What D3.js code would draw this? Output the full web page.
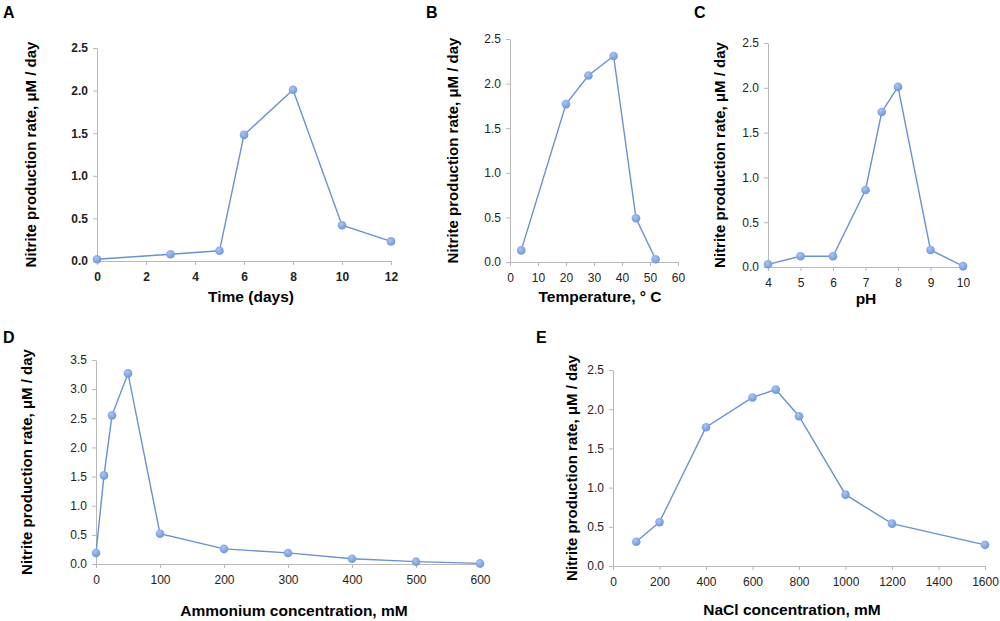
<!DOCTYPE html>
<html>
<head>
<meta charset="utf-8">
<script src="https://cdn.jsdelivr.net/npm/d3@7"></script>
<style>
  body { margin: 0; background: #fff; }
  svg { display: block; font-family: "Liberation Sans", Arial, sans-serif; }
  .axis path, .axis line { stroke: #b8b8b8; }
  .axis text { fill: #222; }
</style>
</head>
<body>
<svg id="chart" width="1000" height="621"></svg>
<script>
// panel A - time course
var timeDays = [0, 3, 5, 6, 8, 10, 12];
var rateTime = [0.02, 0.08, 0.12, 1.48, 2.01, 0.42, 0.23];
var timeTicks = [0, 2, 4, 6, 8, 10, 12];

// panel B - temperature
var tempC = [4, 20, 28, 37, 45, 52];
var rateTemp = [0.13, 1.77, 2.09, 2.31, 0.49, 0.03];
var tempTicks = [0, 10, 20, 30, 40, 50, 60];

// panel C - pH
var phVals = [4, 5, 6, 7, 7.5, 8, 9, 10];
var ratePh = [0.03, 0.12, 0.12, 0.86, 1.73, 2.01, 0.19, 0.01];
var phTicks = [4, 5, 6, 7, 8, 9, 10];

// panel D - ammonium
var ammonium = [0, 12.5, 25, 50, 100, 200, 300, 400, 500, 600];
var rateAmm = [0.19, 1.52, 2.55, 3.27, 0.52, 0.26, 0.19, 0.09, 0.04, 0.01];
var ammTicks = [0, 100, 200, 300, 400, 500, 600];

// panel E - NaCl
var nacl = [100, 200, 400, 600, 700, 800, 1000, 1200, 1600];
var rateNacl = [0.31, 0.56, 1.77, 2.15, 2.25, 1.91, 0.91, 0.54, 0.27];
var naclTicks = [0, 200, 400, 600, 800, 1000, 1200, 1400, 1600];

var yTicks25 = [0, 0.5, 1.0, 1.5, 2.0, 2.5];
var yTicks35 = [0, 0.5, 1.0, 1.5, 2.0, 2.5, 3.0, 3.5];

var yLabel = "Nitrite production rate, \u03bcM / day";

var svg = d3.select("#chart");

var defs = svg.append("defs");
var grad = defs.append("radialGradient").attr("id", "dot").attr("cx", "40%").attr("cy", "35%").attr("r", "65%");
grad.append("stop").attr("offset", "0%").attr("stop-color", "#a9c6f2");
grad.append("stop").attr("offset", "100%").attr("stop-color", "#6f96db");

var panels = [
  { letter: "A", lx: 3, ly: 18, xs: timeDays, ys: rateTime, xt: timeTicks, yt: yTicks25,
    xd: [0, 12], yd: [0, 2.5], x0: 97, x1: 391, y0: 261, y1: 48, bold: true,
    title: "Time (days)", tx: 251, ty: 302, ylx: 31 },
  { letter: "B", lx: 426, ly: 18, xs: tempC, ys: rateTemp, xt: tempTicks, yt: yTicks25,
    xd: [0, 60], yd: [0, 2.5], x0: 510, x1: 678, y0: 262, y1: 39, bold: false,
    title: "Temperature, \u00b0 C", tx: 600, ty: 302, ylx: 453 },
  { letter: "C", lx: 694, ly: 18, xs: phVals, ys: ratePh, xt: phTicks, yt: yTicks25,
    xd: [4, 10], yd: [0, 2.5], x0: 768, x1: 963, y0: 267, y1: 43, bold: false,
    title: "pH", tx: 866, ty: 304, ylx: 720 },
  { letter: "D", lx: 3, ly: 343, xs: ammonium, ys: rateAmm, xt: ammTicks, yt: yTicks35,
    xd: [0, 600], yd: [0, 3.5], x0: 96, x1: 480, y0: 564, y1: 360, bold: false,
    title: "Ammonium concentration, mM", tx: 294, ty: 616, ylx: 27 },
  { letter: "E", lx: 536, ly: 343, xs: nacl, ys: rateNacl, xt: naclTicks, yt: yTicks25,
    xd: [0, 1600], yd: [0, 2.5], x0: 613, x1: 985, y0: 566, y1: 370, bold: false,
    title: "NaCl concentration, mM", tx: 792, ty: 615, ylx: 572 }
];

panels.forEach(function(p) {
  var x = d3.scaleLinear().domain(p.xd).range([p.x0, p.x1]);
  var y = d3.scaleLinear().domain(p.yd).range([p.y0, p.y1]);
  var g = svg.append("g");

  var xa = g.append("g").attr("class", "axis")
    .attr("transform", "translate(0," + p.y0 + ")")
    .call(d3.axisBottom(x).tickValues(p.xt).tickSize(4).tickSizeOuter(0).tickFormat(d3.format("d")));
  var ya = g.append("g").attr("class", "axis")
    .attr("transform", "translate(" + p.x0 + ",0)")
    .call(d3.axisLeft(y).tickValues(p.yt).tickSize(4).tickSizeOuter(0).tickFormat(d3.format(".1f")));

  [xa, ya].forEach(function(a) {
    a.selectAll("text").style("font-size", "12px")
      .style("font-weight", p.bold ? "bold" : "normal");
  });
  xa.selectAll("text").attr("dy", "1.05em");
  ya.selectAll("text").attr("dx", "-2px");

  var pts = p.xs.map(function(d, i) { return [d, p.ys[i]]; });
  g.append("path").datum(pts)
    .attr("fill", "none").attr("stroke", "#6b90d3").attr("stroke-width", 1.4)
    .attr("d", d3.line().x(function(d) { return x(d[0]); }).y(function(d) { return y(d[1]); }));
  g.selectAll("circle").data(pts).enter().append("circle")
    .attr("cx", function(d) { return x(d[0]); })
    .attr("cy", function(d) { return y(d[1]); })
    .attr("r", 4.3)
    .attr("fill", "url(#dot)");

  g.append("text").attr("x", p.tx).attr("y", p.ty).attr("text-anchor", "middle")
    .style("font-size", "15.5px").style("font-weight", "bold").text(p.title);

  var mid = (p.y0 + p.y1) / 2;
  g.append("text").attr("transform", "translate(" + p.ylx + "," + mid + ") rotate(-90)")
    .attr("text-anchor", "middle").attr("dy", "0.35em")
    .style("font-size", "15px").style("font-weight", "bold").text(yLabel);

  g.append("text").attr("x", p.lx).attr("y", p.ly)
    .style("font-size", "16px").style("font-weight", "bold").text(p.letter);
});
</script>
</body>
</html>
